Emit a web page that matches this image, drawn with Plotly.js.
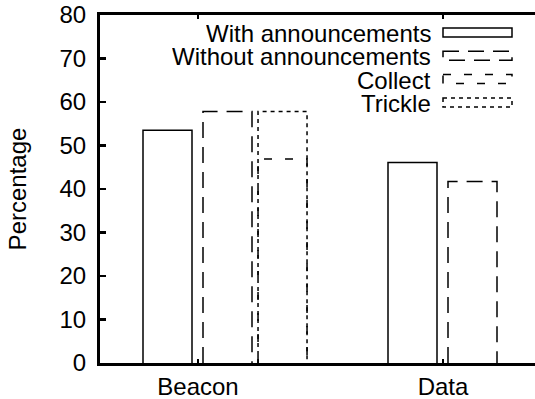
<!DOCTYPE html>
<html>
<head>
<meta charset="utf-8">
<script src="https://cdn.plot.ly/plotly-3.0.1.min.js"></script>
<style>html,body{margin:0;padding:0;background:#fff;}#chart{width:535px;height:399px;}</style>
</head>
<body>
<div id="chart"></div>
<script>
// ---- data ----
const categories = ['Beacon', 'Data'];
const seriesNames = ['With announcements', 'Without announcements', 'Collect', 'Trickle'];
const withAnnouncements = [53.5, 46.1];
const withoutAnnouncements = [57.8, 41.7];
const collect = [46.9, null];
const trickle = [57.8, null];
const yTicks = [0, 10, 20, 30, 40, 50, 60, 70, 80];

// ---- styles ----
const FONT = 'Liberation Sans, Arial, Helvetica, sans-serif';
const FS = 24;
const barWidth = 0.2;
const styles = [
  {vals: withAnnouncements, offset: -0.2245, dash: 'solid'},
  {vals: withoutAnnouncements, offset: 0.0204, dash: '16px,9px'},
  {vals: collect, offset: 0.245, dash: '8px,13px'},
  {vals: trickle, offset: 0.245, dash: '4px,4px'}
];

function outline(vals, off) {
  const xs = [], ys = [];
  vals.forEach((v, i) => {
    if (v === null || v === undefined) return;
    const x0 = i + off, x1 = x0 + barWidth;
    xs.push(x0, x0, x1, x1, null);
    ys.push(0, v, v, 0, null);
  });
  return {xs, ys};
}

const traces = styles.map((s, k) => {
  const o = outline(s.vals, s.offset);
  return {
    type: 'scatter', mode: 'lines', x: o.xs, y: o.ys, name: seriesNames[k],
    line: {color: '#000', width: 1.5, dash: s.dash}, connectgaps: false,
    hoverinfo: 'skip', showlegend: false
  };
});

// ---- custom gnuplot-style legend ----
const L = 100, T = 15, W = 435, H = 348;
const px = x => (x - L) / W;
const py = y => (T + H - y) / H;
const rowY = [32.5, 55.8, 79.1, 102.4];
const annotations = [], shapes = [];
seriesNames.forEach((n, k) => {
  annotations.push({
    xref: 'paper', yref: 'paper', x: px(433), y: py(rowY[k] + 1), xanchor: 'right', yanchor: 'middle',
    height: 23, valign: 'middle',
    text: n, showarrow: false, font: {family: FONT, size: FS, color: '#000'}
  });
  shapes.push({
    type: 'rect', xref: 'paper', yref: 'paper',
    x0: px(443), x1: px(512), y0: py(rowY[k] - 4.5), y1: py(rowY[k] + 4.5),
    line: {color: '#000', width: 1.5, dash: styles[k].dash}, fillcolor: 'rgba(0,0,0,0)'
  });
});

const layout = {
  width: 535, height: 399,
  margin: {l: L, r: 0, t: T, b: 399 - T - H, pad: 0},
  paper_bgcolor: '#fff', plot_bgcolor: '#fff',
  font: {family: FONT, size: FS, color: '#000'},
  showlegend: false,
  xaxis: {
    range: [-0.4, 1.3755], tickvals: categories.map((c, i) => i), ticktext: categories,
    ticks: 'inside', ticklen: 4, tickwidth: 2.5, tickcolor: '#000',
    showline: true, linewidth: 3, linecolor: '#000', mirror: 'ticks',
    showgrid: false, zeroline: false, ticklabelstandoff: 0,
    tickfont: {family: FONT, size: FS, color: '#000'}
  },
  yaxis: {
    range: [0, 80], tickvals: yTicks, ticks: 'inside', ticklen: 6, tickwidth: 2.5, tickcolor: '#000',
    showline: true, linewidth: 3, linecolor: '#000', mirror: false,
    showgrid: false, zeroline: false, ticklabelstandoff: 6,
    tickfont: {family: FONT, size: FS, color: '#000'},
    title: {text: 'Percentage', font: {family: FONT, size: FS, color: '#000'}, standoff: 27}
  },
  annotations, shapes
};

Plotly.newPlot('chart', traces, layout, {staticPlot: true, displayModeBar: false});
</script>
</body>
</html>
